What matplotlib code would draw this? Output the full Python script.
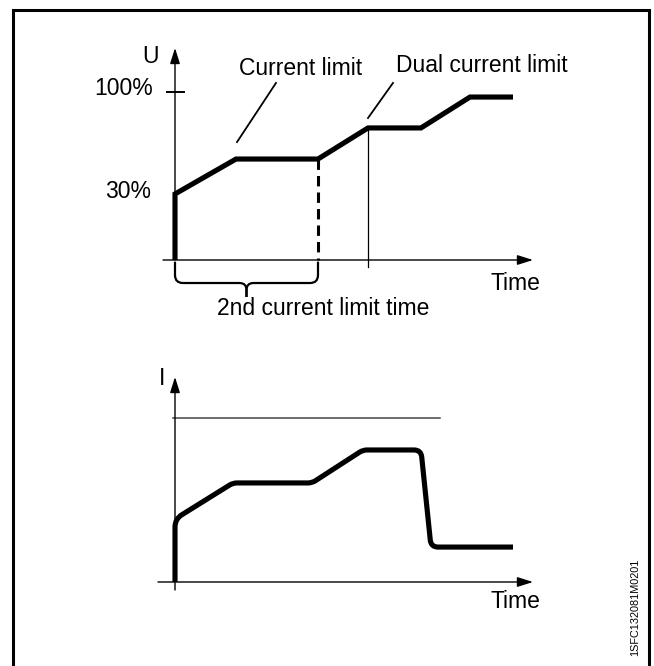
import numpy as np
import matplotlib
matplotlib.use('Agg')
import matplotlib.pyplot as plt
from matplotlib.path import Path
from matplotlib.patches import PathPatch, Rectangle

plt.rcParams['font.family'] = ['Liberation Sans', 'DejaVu Sans']

# upper panel: voltage ramp, time in arbitrary units, U in % of full voltage
u_time = [0, 0, 6.1, 14.3, 19.3, 24.6, 29.5, 33.8]
u_level = [0, 39.3, 60.1, 60.1, 78.6, 78.6, 97.0, 97.0]
u_full = 100
second_limit_end = 14.3   # end of 2nd current limit time
dual_time = 19.3          # where dual current limit takes over
dual_level = 78.6

# lower panel: current, I in % of the current limit
i_time = [0, 0, 5.8, 13.7, 18.8, 24.6, 25.6, 33.8]
i_level = [0, 38.4, 60.4, 60.4, 80.5, 80.5, 21.3, 21.3]
i_corner = [0, 8, 4, 4, 4, 7, 7, 0]   # corner rounding, px
i_limit = 100
i_limit_end = 26.5

FS = 16.5
THICK = 3.7


def rounded(ax, xs, ys, radii):
    # round the corners of a polyline, radius given in display pixels
    pts = ax.transData.transform(np.column_stack([xs, ys]))
    verts = [pts[0]]
    codes = [Path.MOVETO]
    for k in range(1, len(pts) - 1):
        p = pts[k]
        r = radii[k]
        if r <= 0:
            verts.append(p)
            codes.append(Path.LINETO)
            continue
        a = pts[k - 1] - p
        b = pts[k + 1] - p
        a = a / np.hypot(*a)
        b = b / np.hypot(*b)
        verts += [p + r * a, p, p + r * b]
        codes += [Path.LINETO, Path.CURVE3, Path.CURVE3]
    verts.append(pts[-1])
    codes.append(Path.LINETO)
    verts = ax.transData.inverted().transform(np.array(verts))
    return Path(verts, codes)


def axis_arrow(ax, start, tip, lw=1.0):
    ax.annotate('', xy=tip, xytext=start,
                arrowprops=dict(arrowstyle='-|>,head_length=0.95,head_width=0.3',
                                mutation_scale=10, lw=lw, color='black',
                                shrinkA=0, shrinkB=0))


fig = plt.figure(figsize=(6.54, 6.66), dpi=100)

# ---- upper: voltage ----
ax1 = fig.add_axes([12 / 654, 1 - 340 / 666, 638 / 654, 330 / 666])
ax1.set_xlim(-16.3, 47.5)
ax1.set_ylim(-47.62, 148.81)
ax1.axis('off')

axis_arrow(ax1, (0, 0), (0, 126.2))
axis_arrow(ax1, (-1.2, 0), (35.8, 0))
ax1.plot([-0.8, 0.9], [u_full, u_full], color='black', lw=1.4)

ax1.plot(u_time, u_level, color='black', lw=THICK,
         solid_joinstyle='miter', solid_capstyle='butt')
ax1.plot([second_limit_end, second_limit_end], [u_level[3], 0], color='black',
         lw=2.2, dashes=(3.4, 2.0))
ax1.plot([dual_time, dual_time], [dual_level, -4.2], color='black', lw=0.9)

# pointer lines for the labels
ax1.plot([6.2, 10.1], [70.2, 105.4], color='black', lw=1.3)
ax1.plot([19.3, 21.8], [84.5, 105.4], color='black', lw=1.3)

# brace under the 2nd current limit time
mid = second_limit_end / 2
for edge in [0, second_limit_end]:
    brace = rounded(ax1, [edge, edge, mid, mid], [-1, -13.7, -13.7, -22], [0, 8, 7, 0])
    ax1.add_patch(PathPatch(brace, fill=False, lw=1.6, color='black'))

ax1.text(-2.5, 117.5, 'U', fontsize=FS, ha='center', va='baseline')
ax1.text(-2.2, 98.2, '100%', fontsize=FS, ha='right', va='baseline')
ax1.text(-2.4, 36.9, '30%', fontsize=FS, ha='right', va='baseline')
ax1.text(12.6, 110.1, 'Current limit', fontsize=FS, ha='center', va='baseline')
ax1.text(30.65, 111.9, 'Dual current limit', fontsize=FS, ha='center', va='baseline')
ax1.text(34.0, -17.9, 'Time', fontsize=FS, ha='center', va='baseline')
ax1.text(14.8, -32.7, '2nd current limit time', fontsize=FS, ha='center', va='baseline')

# ---- lower: current ----
ax2 = fig.add_axes([12 / 654, 0, 638 / 654, 326 / 666])
ax2.set_xlim(-16.3, 47.5)
ax2.set_ylim(-51.22, 147.56)
ax2.axis('off')

axis_arrow(ax2, (0, -4.9), (0, 125))
axis_arrow(ax2, (-1.7, 0), (35.8, 0))
ax2.plot([-0.2, i_limit_end], [i_limit, i_limit], color='#444444', lw=1.1)

cur = rounded(ax2, i_time, i_level, i_corner)
ax2.add_patch(PathPatch(cur, fill=False, lw=THICK, color='black',
                        capstyle='butt', joinstyle='round'))

ax2.text(-1.3, 120.1, 'I', fontsize=FS, ha='center', va='baseline')
ax2.text(34.0, -15.9, 'Time', fontsize=FS, ha='center', va='baseline')

# frame and drawing id
fig.add_artist(Rectangle((12.7 / 654, -0.1), (649 - 12.7) / 654, 1 - 10.5 / 666 + 0.1,
                         transform=fig.transFigure, fill=False, lw=2.2,
                         edgecolor='black', clip_on=False))
fig.text(635 / 654, 1 - 607 / 666, '1SFC132081M0201', rotation=90, fontsize=7.8,
         ha='center', va='center')

fig.savefig('out.png', dpi=100)
